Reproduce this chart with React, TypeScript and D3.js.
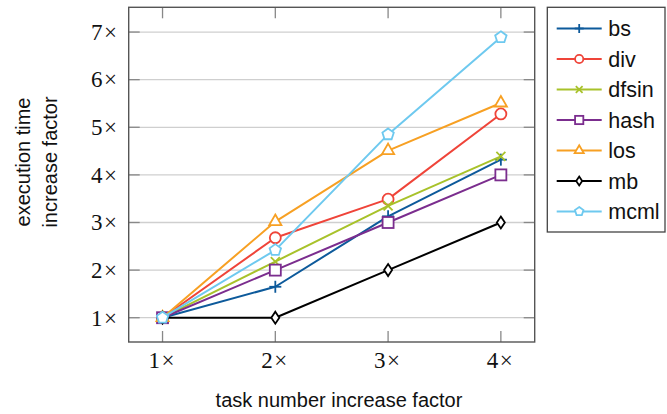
import React from "react";
import * as d3 from "d3";

const xValues = [1, 2, 3, 4];
const xTickLabels = ["1", "2", "3", "4"];
const yTicks = [1, 2, 3, 4, 5, 6, 7];

const seriesNames = ["bs", "div", "dfsin", "hash", "los", "mb", "mcml"];
const bs = [1, 1.65, 3.13, 4.32];
const div = [1, 2.68, 3.49, 5.28];
const dfsin = [1, 2.18, 3.35, 4.39];
const hash = [1, 2, 3, 4];
const los = [1, 3.02, 4.51, 5.51];
const mb = [1, 1, 2, 3];
const mcml = [1, 2.42, 4.85, 6.89];
const seriesValues = [bs, div, dfsin, hash, los, mb, mcml];
const colors = ["#0d5a9b", "#ef4439", "#a8c22a", "#7b2d8e", "#f7a023", "#000000", "#6ec9ef"];
const markers = ["plus", "circle", "cross", "square", "triangle", "diamond", "pentagon"];

const W = 667;
const H = 414;
const left = 128.7, right = 534.7, top = 7.3, bottom = 342;

function Marker({ type, x, y, color, s = 1 }: { type: string; x: number; y: number; color: string; s?: number }) {
  const sw = 1.8;
  const common = { stroke: color, strokeWidth: sw, fill: "white" };
  switch (type) {
    case "plus":
      return (
        <g stroke={color} strokeWidth={sw}>
          <line x1={x - 6 * s} x2={x + 6 * s} y1={y} y2={y} />
          <line x1={x} x2={x} y1={y - 6 * s} y2={y + 6 * s} />
        </g>
      );
    case "cross":
      return (
        <g stroke={color} strokeWidth={sw}>
          <line x1={x - 4.5 * s} x2={x + 4.5 * s} y1={y - 4.5 * s} y2={y + 4.5 * s} />
          <line x1={x - 4.5 * s} x2={x + 4.5 * s} y1={y + 4.5 * s} y2={y - 4.5 * s} />
        </g>
      );
    case "circle":
      return <circle cx={x} cy={y} r={5.5 * s} {...common} />;
    case "square":
      return <rect x={x - 5.5 * s} y={y - 5.5 * s} width={11 * s} height={11 * s} {...common} />;
    case "triangle": {
      const r = 7 * s;
      const pts = [[x, y - r], [x + r * 0.866, y + r * 0.5], [x - r * 0.866, y + r * 0.5]];
      return <polygon points={pts.map((p) => p.join(",")).join(" ")} {...common} />;
    }
    case "diamond": {
      const pts = [[x, y - 6 * s], [x + 4 * s, y], [x, y + 6 * s], [x - 4 * s, y]];
      return <polygon points={pts.map((p) => p.join(",")).join(" ")} {...common} />;
    }
    case "pentagon": {
      const r = 6 * s;
      const pts = d3.range(5).map((i) => {
        const a = -Math.PI / 2 + (i * 2 * Math.PI) / 5;
        return [x + r * Math.cos(a), y + r * Math.sin(a)];
      });
      return <polygon points={pts.map((p) => p.join(",")).join(" ")} {...common} />;
    }
  }
  return null;
}

export default function App() {
  const x = d3.scaleLinear().domain([0.7, 4.3]).range([left, right]);
  const y = d3.scaleLinear().domain([0.49, 7.52]).range([bottom, top]);
  const line = d3
    .line<number>()
    .x((_, i) => x(xValues[i]))
    .y((d) => y(d));

  const serif = "'Liberation Serif', 'Times New Roman', serif";
  const sans = "'Liberation Sans', Arial, Helvetica, sans-serif";
  const legendX = 547.3, legendY = 7.3, legendW = 117.7, legendH = 224.7;

  return (
    <svg width={W} height={H} style={{ position: "absolute", left: 0, top: 0, background: "white" }}>
      <rect x={0} y={0} width={W} height={H} fill="white" />
      {/* grid */}
      {yTicks.map((t) => (
        <line key={"g" + t} x1={left} x2={right} y1={y(t)} y2={y(t)} stroke="#cfcfcf" strokeWidth={1.3} />
      ))}
      {/* ticks */}
      {yTicks.map((t) => (
        <g key={"yt" + t} stroke="#888" strokeWidth={1.3}>
          <line x1={left} x2={left + 11} y1={y(t)} y2={y(t)} />
          <line x1={right - 11} x2={right} y1={y(t)} y2={y(t)} />
        </g>
      ))}
      {xValues.map((t) => (
        <g key={"xt" + t} stroke="#888" strokeWidth={1.3}>
          <line x1={x(t)} x2={x(t)} y1={bottom} y2={bottom - 11} />
          <line x1={x(t)} x2={x(t)} y1={top} y2={top + 11} />
        </g>
      ))}
      {/* series */}
      {seriesValues.map((vals, si) => (
        <g key={"s" + si}>
          <path d={line(vals) || ""} fill="none" stroke={colors[si]} strokeWidth={2} strokeLinejoin="round" />
          {vals.map((v, i) => (
            <Marker key={i} type={markers[si]} x={x(xValues[i])} y={y(v)} color={colors[si]} />
          ))}
        </g>
      ))}
      {/* frame */}
      <rect x={left} y={top} width={right - left} height={bottom - top} fill="none" stroke="#555" strokeWidth={1.4} />
      {/* y tick labels */}
      {yTicks.map((t) => (
        <text key={"yl" + t} x={117} y={y(t) + 7.8} textAnchor="end" fontFamily={serif} fontSize={23} fill="#111">
          {t}
          <tspan dx={1.5}>×</tspan>
        </text>
      ))}
      {/* x tick labels */}
      {xValues.map((t, i) => (
        <text key={"xl" + t} x={x(t) - 1} y={368} textAnchor="middle" fontFamily={serif} fontSize={23} fill="#111">
          {xTickLabels[i]}
          <tspan dx={1.5}>×</tspan>
        </text>
      ))}
      {/* axis labels */}
      <text x={339} y={407} textAnchor="middle" fontFamily={sans} fontSize={20} fill="#111">
        task number increase factor
      </text>
      <text transform={`translate(30,162) rotate(-90)`} textAnchor="middle" fontFamily={sans} fontSize={20} fill="#111">
        execution time
      </text>
      <text transform={`translate(57,162) rotate(-90)`} textAnchor="middle" fontFamily={sans} fontSize={20} fill="#111">
        increase factor
      </text>
      {/* legend */}
      <rect x={legendX} y={legendY} width={legendW} height={legendH} fill="white" stroke="#444" strokeWidth={1.3} />
      {seriesNames.map((name, i) => {
        const cy = 28.5 + i * 30.5;
        return (
          <g key={"lg" + name}>
            <line x1={556.7} x2={601.7} y1={cy} y2={cy} stroke={colors[i]} strokeWidth={2} />
            <Marker type={markers[i]} x={579.2} y={cy} color={colors[i]} s={0.75} />
            <text x={608.3} y={cy + 7.5} fontFamily={sans} fontSize={21.5} fill="#111">
              {name}
            </text>
          </g>
        );
      })}
    </svg>
  );
}
